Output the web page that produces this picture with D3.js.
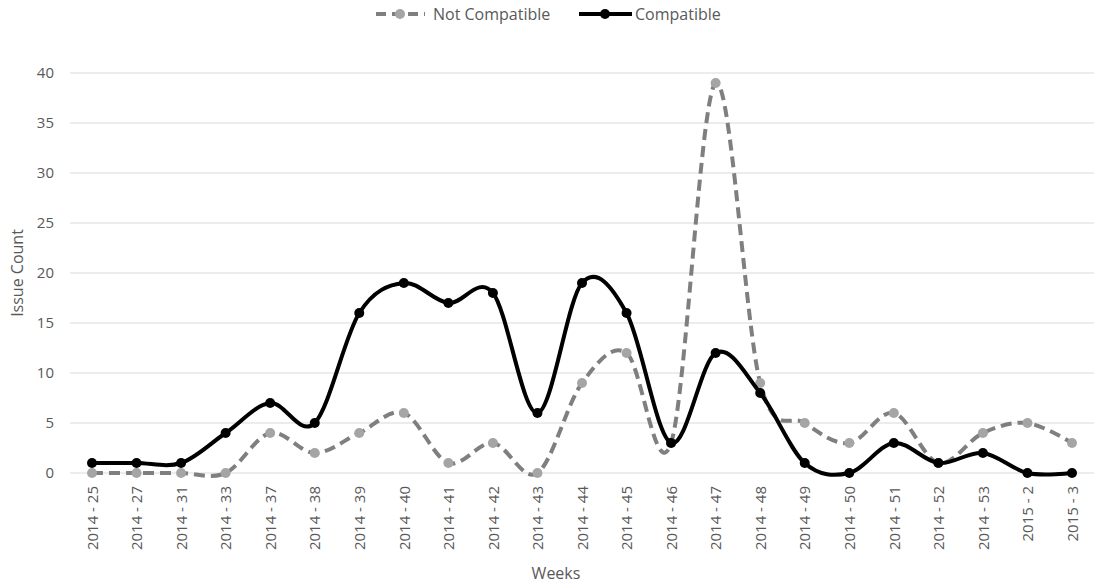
<!DOCTYPE html>
<html><head><meta charset="utf-8">
<script src="https://cdn.jsdelivr.net/npm/d3@7"></script>
<style>body{margin:0;background:#fff;} text{font-family:"Open Sans",sans-serif;}</style>
</head><body>
<svg id="chart" width="1095" height="584"></svg>
<script>
const weeks = ["2014 - 25","2014 - 27","2014 - 31","2014 - 33","2014 - 37","2014 - 38","2014 - 39","2014 - 40","2014 - 41","2014 - 42","2014 - 43","2014 - 44","2014 - 45","2014 - 46","2014 - 47","2014 - 48","2014 - 49","2014 - 50","2014 - 51","2014 - 52","2014 - 53","2015 - 2","2015 - 3"];
const notCompatible = [0,0,0,0,4,2,4,6,1,3,0,9,12,3,39,9,5,3,6,1,4,5,3];
const compatible = [1,1,1,4,7,5,16,19,17,18,6,19,16,3,12,8,1,0,3,1,2,0,0];
const yTicks = [0,5,10,15,20,25,30,35,40];

const svg = d3.select("#chart");
const x = d3.scalePoint().domain(weeks).range([92, 1072]);
const y = d3.scaleLinear().domain([0,40]).range([473, 73]);
const txt = "#595959";

svg.append("g").selectAll("line").data(yTicks).join("line")
  .attr("x1", 70).attr("x2", 1094)
  .attr("y1", d => y(d)).attr("y2", d => y(d))
  .attr("stroke", "#d9d9d9").attr("stroke-width", 1);

const yAxis = svg.append("g").attr("transform", "translate(70,0)")
  .call(d3.axisLeft(y).tickValues(yTicks).tickSize(0).tickPadding(16));
yAxis.select(".domain").remove();
yAxis.selectAll("text").attr("fill", txt).style("font-size", "15px").style("font-family", "Open Sans");

const xAxis = svg.append("g").attr("transform", "translate(0,473)")
  .call(d3.axisBottom(x).tickSize(0));
xAxis.select(".domain").remove();
xAxis.selectAll("text").attr("fill", txt).style("font-size", "15px").style("font-family", "Open Sans")
  .attr("transform", "rotate(-90)").attr("text-anchor", "end")
  .attr("x", -13).attr("y", 0).attr("dy", "0.35em");

svg.append("text").attr("x", 556).attr("y", 579).attr("text-anchor", "middle")
  .attr("fill", txt).style("font-size", "16px").text("Weeks");
svg.append("text").attr("transform", "translate(23,273) rotate(-90)").attr("text-anchor", "middle")
  .attr("fill", txt).style("font-size", "16px").text("Issue Count");

const line = d3.line().x((d,i) => x(weeks[i])).y(d => y(d)).curve(d3.curveCardinal.tension(0));

svg.append("path").datum(notCompatible).attr("d", line).attr("fill", "none")
  .attr("stroke", "#7f7f7f").attr("stroke-width", 4).attr("stroke-dasharray", "11,6");
svg.append("g").selectAll("circle").data(notCompatible).join("circle")
  .attr("cx", (d,i) => x(weeks[i])).attr("cy", d => y(d)).attr("r", 5).attr("fill", "#a5a5a5");

svg.append("path").datum(compatible).attr("d", line).attr("fill", "none")
  .attr("stroke", "#000").attr("stroke-width", 4);
svg.append("g").selectAll("circle").data(compatible).join("circle")
  .attr("cx", (d,i) => x(weeks[i])).attr("cy", d => y(d)).attr("r", 5).attr("fill", "#000");

const lg = svg.append("g");
lg.append("line").attr("x1", 376).attr("x2", 425).attr("y1", 14).attr("y2", 14)
  .attr("stroke", "#7f7f7f").attr("stroke-width", 4).attr("stroke-dasharray", "10,6");
lg.append("circle").attr("cx", 400).attr("cy", 14).attr("r", 5).attr("fill", "#a5a5a5");
lg.append("text").attr("x", 433).attr("y", 14).attr("dy", "0.35em").attr("fill", txt)
  .style("font-size", "16px").text("Not Compatible");
lg.append("line").attr("x1", 579).attr("x2", 632).attr("y1", 14).attr("y2", 14)
  .attr("stroke", "#000").attr("stroke-width", 4);
lg.append("circle").attr("cx", 605).attr("cy", 14).attr("r", 5).attr("fill", "#000");
lg.append("text").attr("x", 635).attr("y", 14).attr("dy", "0.35em").attr("fill", txt)
  .style("font-size", "16px").text("Compatible");
</script>
</body></html>
